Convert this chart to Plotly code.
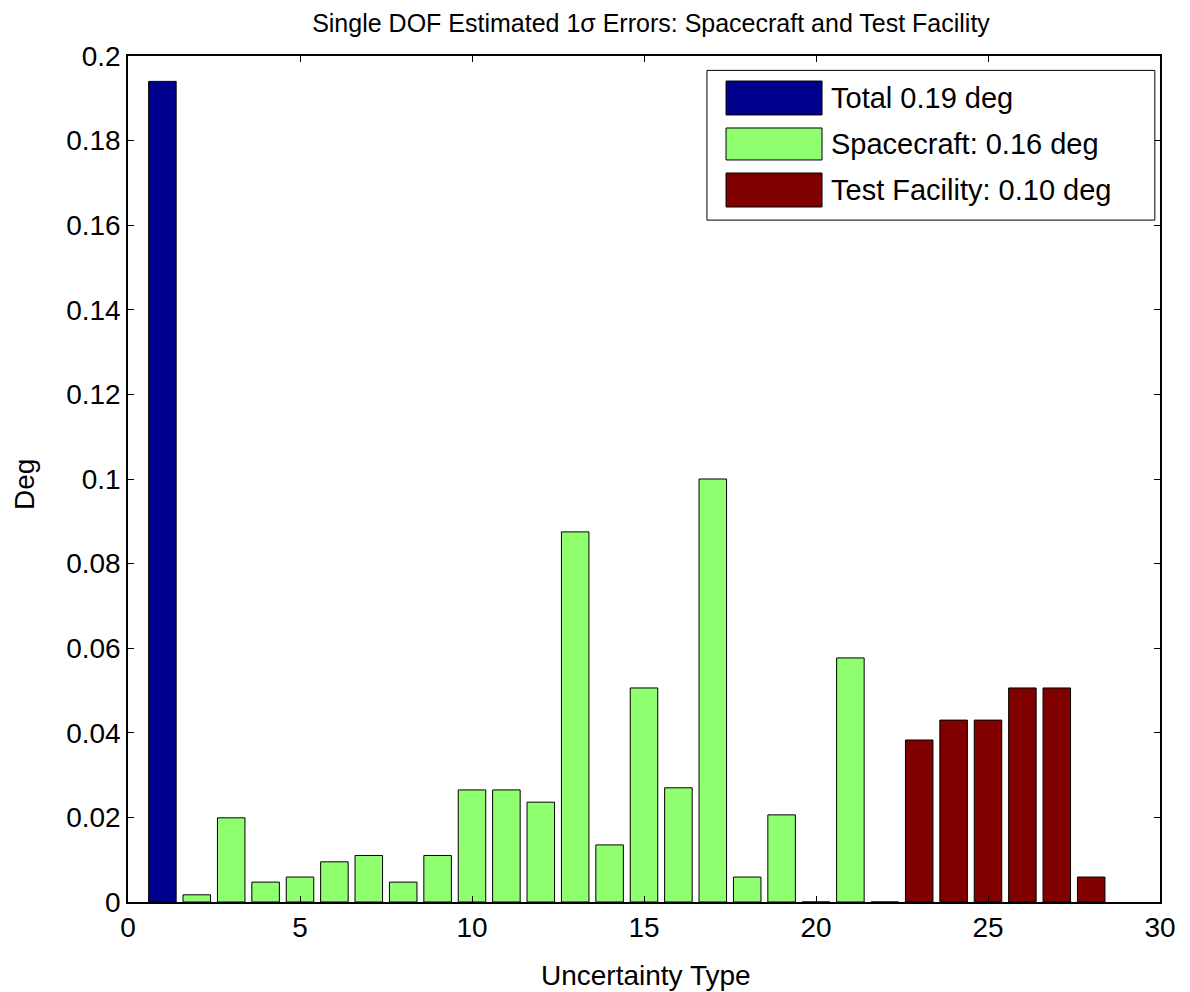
import plotly.graph_objects as go

# ---- data ----
total_x = [1]
total_y = [0.194]

spacecraft_x = list(range(2, 22))
spacecraft_y = [0.0017, 0.0199, 0.0047, 0.0059, 0.0095, 0.011, 0.0047, 0.011,
                0.0265, 0.0265, 0.0236, 0.0875, 0.0135, 0.0506, 0.027, 0.100,
                0.0059, 0.0206, 0.0, 0.0577]

facility_x = list(range(22, 29))
facility_y = [0.0, 0.0383, 0.043, 0.043, 0.0506, 0.0506, 0.0059]

series_names = ["Total 0.19 deg", "Spacecraft: 0.16 deg", "Test Facility: 0.10 deg"]
series_colors = ["#00008C", "#8FFF70", "#800000"]

x_ticks = [0, 5, 10, 15, 20, 25, 30]
y_ticks = [0, 0.02, 0.04, 0.06, 0.08, 0.1, 0.12, 0.14, 0.16, 0.18, 0.2]
y_ticktext = ["0", "0.02", "0.04", "0.06", "0.08", "0.1", "0.12", "0.14", "0.16", "0.18", "0.2"]

FONT = "Liberation Sans, Arial, sans-serif"

fig = go.Figure()
for xs, ys, name, col in [(total_x, total_y, series_names[0], series_colors[0]),
                          (spacecraft_x, spacecraft_y, series_names[1], series_colors[1]),
                          (facility_x, facility_y, series_names[2], series_colors[2])]:
    fig.add_trace(go.Bar(x=xs, y=ys, name=name, width=0.8,
                         marker=dict(color=col, line=dict(color="black", width=1)),
                         showlegend=False))

# manual MATLAB-style legend
fig.add_shape(type="rect", xref="paper", yref="paper", x0=0.561, x1=0.995, y0=0.806, y1=0.983,
              line=dict(color="black", width=1), fillcolor="white", layer="above")
patch_rows = [(0.9704, 0.9303, 0.9504), (0.9149, 0.8771, 0.896), (0.8617, 0.8215, 0.8416)]
for (top, bot, mid), name, col in zip(patch_rows, series_names, series_colors):
    fig.add_shape(type="rect", xref="paper", yref="paper", x0=0.5795, x1=0.6725, y0=bot, y1=top,
                  line=dict(color="black", width=1), fillcolor=col, layer="above")
    fig.add_annotation(xref="paper", yref="paper", x=0.679, y=mid, text=name, showarrow=False,
                       xanchor="left", yanchor="middle", font=dict(family=FONT, size=29, color="black"))

# axis titles
fig.add_annotation(xref="paper", yref="paper", x=0.502, y=-0.0863, text="Uncertainty Type",
                   showarrow=False, xanchor="center", yanchor="middle",
                   font=dict(family=FONT, size=28, color="black"))
fig.add_annotation(xref="paper", yref="paper", x=-0.0998, y=0.493, text="Deg", textangle=-90,
                   showarrow=False, xanchor="center", yanchor="middle",
                   font=dict(family=FONT, size=28, color="black"))

fig.update_layout(
    width=1182, height=984,
    margin=dict(l=120, r=30, t=48, b=90),
    paper_bgcolor="white", plot_bgcolor="white",
    barmode="overlay",
    font=dict(family=FONT, color="black"),
    title=dict(text="Single DOF Estimated 1σ Errors: Spacecraft and Test Facility",
               x=0.544, xanchor="center", y=0.985, yanchor="middle",
               font=dict(family=FONT, size=25, color="black")),
    xaxis=dict(range=[0, 30], tickvals=x_ticks, showgrid=False, zeroline=False,
               showline=True, linecolor="black", linewidth=1.5, mirror="ticks",
               ticks="inside", ticklen=6, tickcolor="black",
               tickfont=dict(family=FONT, size=28)),
    yaxis=dict(range=[0, 0.2], tickvals=y_ticks, ticktext=y_ticktext, showgrid=False, zeroline=False,
               showline=True, linecolor="black", linewidth=1.5, mirror="ticks",
               ticks="inside", ticklen=6, tickcolor="black",
               tickfont=dict(family=FONT, size=28)),
)

fig.write_html("out.html")
